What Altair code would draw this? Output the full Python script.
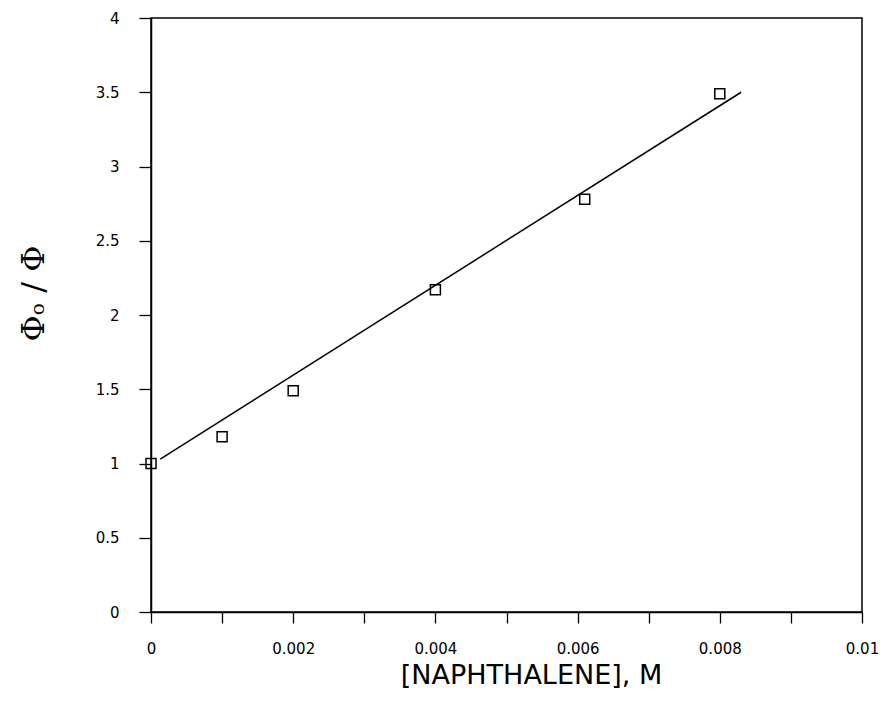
import altair as alt
import pandas as pd

# Measured data points
conc = [0.0, 0.001, 0.002, 0.004, 0.0061, 0.008]
ratio = [1.0, 1.18, 1.49, 2.17, 2.78, 3.49]

# Fitted line endpoints (as drawn)
fit_x = [0.00013, 0.0083]
fit_y = [1.03, 3.5]

x_ticks = [0, 0.001, 0.002, 0.003, 0.004, 0.005, 0.006, 0.007, 0.008, 0.009, 0.01]
y_ticks = [0, 0.5, 1, 1.5, 2, 2.5, 3, 3.5, 4]

pts = pd.DataFrame({"x": conc, "y": ratio})
fit = pd.DataFrame({"x": fit_x, "y": fit_y})

xscale = alt.Scale(domain=[0, 0.01], nice=False, zero=False)
yscale = alt.Scale(domain=[0, 4], nice=False, zero=False)

xaxis = alt.Axis(
    values=x_ticks,
    labelExpr="round(datum.value*1000) % 2 == 0 ? format(datum.value, '~g') : ''",
    labelFlush=False,
    tickSize=11,
    tickColor="black",
    tickWidth=1.3,
    domainColor="black",
    domainWidth=1.5,
    labelFont="DejaVu Sans",
    labelFontSize=15,
    labelColor="black",
    labelPadding=18,
    grid=False,
    title="[NAPHTHALENE], M",
    titleFont="DejaVu Sans",
    titleFontSize=27,
    titleFontWeight="normal",
    titleColor="black",
    titleX=380,
    titleY=63,
    titleBaseline="middle",
    titleAlign="center",
)

yaxis = alt.Axis(
    values=y_ticks,
    format="~g",
    labelFlush=False,
    tickSize=12,
    tickColor="black",
    tickWidth=1.3,
    domainColor="black",
    domainWidth=1.5,
    labelFont="DejaVu Sans",
    labelFontSize=15,
    labelColor="black",
    labelPadding=20,
    grid=False,
    title="Φₒ / Φ",
    titleFont="DejaVu Serif",
    titleFontSize=32,
    titleFontWeight="normal",
    titleColor="black",
    titleAngle=270,
    titleX=-118,
    titleY=275,
    titleBaseline="middle",
    titleAlign="center",
)

line = alt.Chart(fit).mark_line(color="black", strokeWidth=1.5).encode(
    x=alt.X("x:Q", scale=xscale, axis=xaxis),
    y=alt.Y("y:Q", scale=yscale, axis=yaxis),
)

points = alt.Chart(pts).mark_point(
    shape="square", filled=False, size=100, color="black", strokeWidth=1.5, opacity=1
).encode(
    x=alt.X("x:Q", scale=xscale),
    y=alt.Y("y:Q", scale=yscale),
)

chart = (
    alt.layer(line, points)
    .properties(
        width=711,
        height=594,
        autosize=alt.AutoSizeParams(type="none"),
        padding={"left": 143, "top": 10, "right": 21, "bottom": 96},
        background="white",
    )
    .configure_view(stroke="black", strokeWidth=1.5)
)

chart.save("out.html", embed_options={"renderer": "svg", "actions": False})
